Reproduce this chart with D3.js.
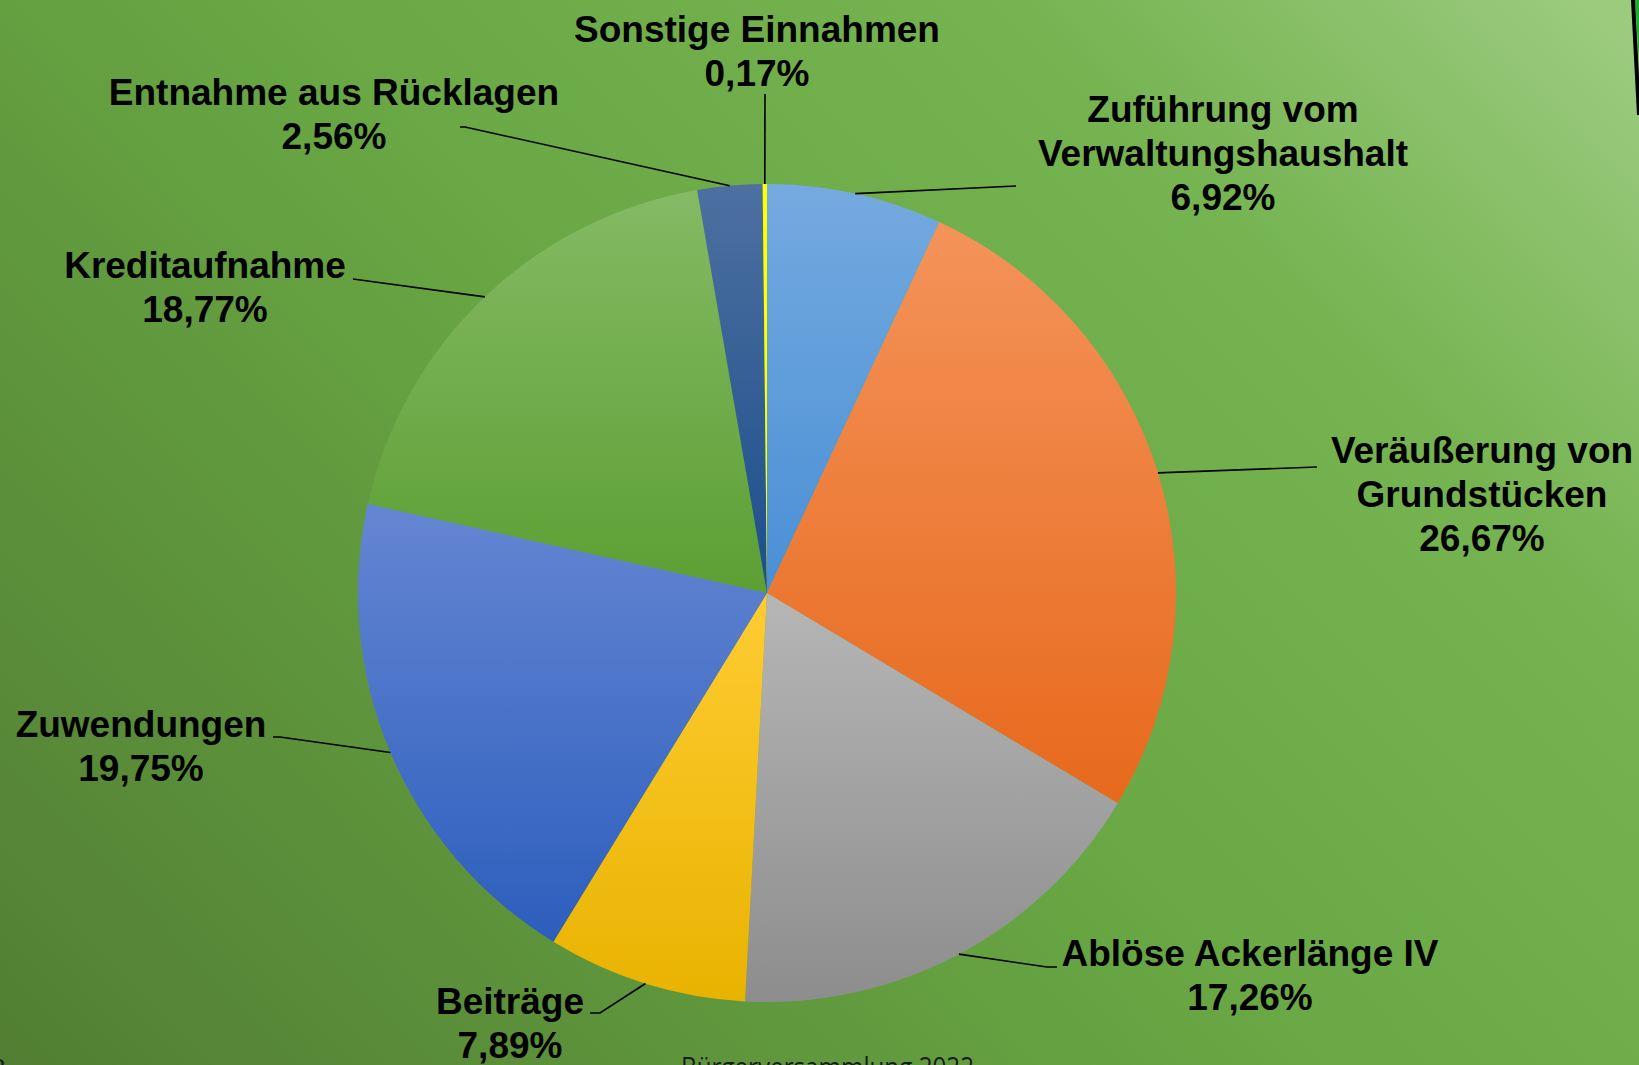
<!DOCTYPE html>
<html>
<head>
<meta charset="utf-8">
<script src="https://cdn.jsdelivr.net/npm/d3@7"></script>
<style>
  html, body { margin: 0; padding: 0; overflow: hidden; background: #6aa843; }
  svg { display: block; }
</style>
</head>
<body>
<svg id="chart" width="1639" height="1065"></svg>
<script>
// ---- data ----
const categories = [
  "Zuführung vom Verwaltungshaushalt",
  "Veräußerung von Grundstücken",
  "Ablöse Ackerlänge IV",
  "Beiträge",
  "Zuwendungen",
  "Kreditaufnahme",
  "Entnahme aus Rücklagen",
  "Sonstige Einnahmen"
];
const values = [6.92, 26.67, 17.26, 7.89, 19.75, 18.77, 2.56, 0.17];
const labelLines = [
  ["Zuführung vom", "Verwaltungshaushalt"],
  ["Veräußerung von", "Grundstücken"],
  ["Ablöse Ackerlänge IV"],
  ["Beiträge"],
  ["Zuwendungen"],
  ["Kreditaufnahme"],
  ["Entnahme aus Rücklagen"],
  ["Sonstige Einnahmen"]
];
const footerText = "Bürgerversammlung 2022";

// ---- styles / layout ----
const sliceColors = [
  ["#74aadf", "#4a8fd6"],
  ["#f4935a", "#e7691c"],
  ["#b6b6b6", "#8d8d8d"],
  ["#ffcc33", "#e8b300"],
  ["#6586d2", "#2c5ebd"],
  ["#84ba64", "#5c9f33"],
  ["#4d70a0", "#1c4e8b"],
  ["#ffff00", "#ffff00"]
];
const labelLayout = [
  { x: 1223, y: 122, knee: [[1016, 186]] },
  { x: 1482, y: 463, knee: [[1317, 467]] },
  { x: 1250, y: 966, knee: [[1047, 967], [1057, 967]] },
  { x: 510,  y: 1014, knee: [[600, 1013], [590, 1013]] },
  { x: 141,  y: 737, knee: [[280, 737], [273, 737]] },
  { x: 205,  y: 278, knee: [[353, 279]] },
  { x: 334,  y: 105, knee: [[465, 127], [460, 127]] },
  { x: 757,  y: 42,  knee: [[765, 94]] }
];
const W = 1639, H = 1065;
const cx = 767, cy = 593, R = 409;
const lineH = 44;

const svg = d3.select("#chart");
const defs = svg.append("defs");

// background gradient
const bg = defs.append("linearGradient").attr("id", "bg")
  .attr("gradientUnits", "userSpaceOnUse")
  .attr("x1", 150).attr("y1", 1200).attr("x2", 1500).attr("y2", -100);
bg.append("stop").attr("offset", 0).attr("stop-color", "#527f33");
bg.append("stop").attr("offset", 0.5).attr("stop-color", "#69a844");
bg.append("stop").attr("offset", 0.78).attr("stop-color", "#76b452");
bg.append("stop").attr("offset", 1).attr("stop-color", "#9ccb7e");
svg.append("rect").attr("width", W).attr("height", H).attr("fill", "url(#bg)");

// top-right edge artefact
svg.append("path").attr("d", `M1635,0 L${W},0 L${W},60 Z`).attr("fill", "#1db02a");
svg.append("line").attr("x1", 1633).attr("y1", 0).attr("x2", 1639).attr("y2", 115)
  .attr("stroke", "#000").attr("stroke-width", 4);

// slice gradients
sliceColors.forEach((c, i) => {
  const g = defs.append("linearGradient").attr("id", "sg" + i)
    .attr("x1", 0).attr("y1", 0).attr("x2", 0).attr("y2", 1);
  g.append("stop").attr("offset", 0).attr("stop-color", c[0]);
  g.append("stop").attr("offset", 1).attr("stop-color", c[1]);
});

const pie = d3.pie().sort(null).value(d => d);
const arcs = pie(values);
const arc = d3.arc().innerRadius(0).outerRadius(R);
const edgeArc = d3.arc().innerRadius(R).outerRadius(R);

const g = svg.append("g").attr("transform", `translate(${cx},${cy})`);
g.selectAll("path.slice").data(arcs).join("path")
  .attr("class", "slice")
  .attr("d", arc)
  .attr("fill", (d, i) => `url(#sg${i})`);

// leader lines
const line = d3.line();
svg.append("g").selectAll("path.leader").data(arcs).join("path")
  .attr("class", "leader")
  .attr("d", (d, i) => {
    const c = edgeArc.centroid(d);
    const start = [cx + c[0], cy + c[1]];
    return line([start, ...labelLayout[i].knee]);
  })
  .attr("fill", "none").attr("stroke", "#000").attr("stroke-width", 1.6);

// labels
const loc = d3.formatLocale({ decimal: ",", thousands: ".", grouping: [3], currency: ["", "€"] });
const fmt = loc.format(".2f");
const lbl = svg.append("g")
  .attr("font-family", "'Liberation Sans', Arial, sans-serif")
  .attr("font-weight", "bold").attr("font-size", 37).attr("fill", "#000")
  .attr("text-anchor", "middle");
labelLines.forEach((lines, i) => {
  const L = labelLayout[i];
  const all = [...lines, fmt(values[i]) + "%"];
  const t = lbl.append("text").attr("x", L.x).attr("y", L.y);
  all.forEach((s, k) => {
    t.append("tspan").attr("x", L.x).attr("y", L.y + k * lineH).text(s);
  });
});

// footer (partially cut off)
svg.append("text").attr("x", 681).attr("y", 1077)
  .attr("font-family", "'Open Sans', 'Liberation Sans', sans-serif")
  .attr("font-size", 28).attr("fill", "#1a1a1a")
  .attr("textLength", 293).attr("lengthAdjust", "spacingAndGlyphs")
  .text(footerText);
svg.append("text").attr("x", -9).attr("y", 1077)
  .attr("font-family", "'Liberation Sans', sans-serif")
  .attr("font-size", 26).attr("fill", "#1a1a1a").text("8");
</script>
</body>
</html>
